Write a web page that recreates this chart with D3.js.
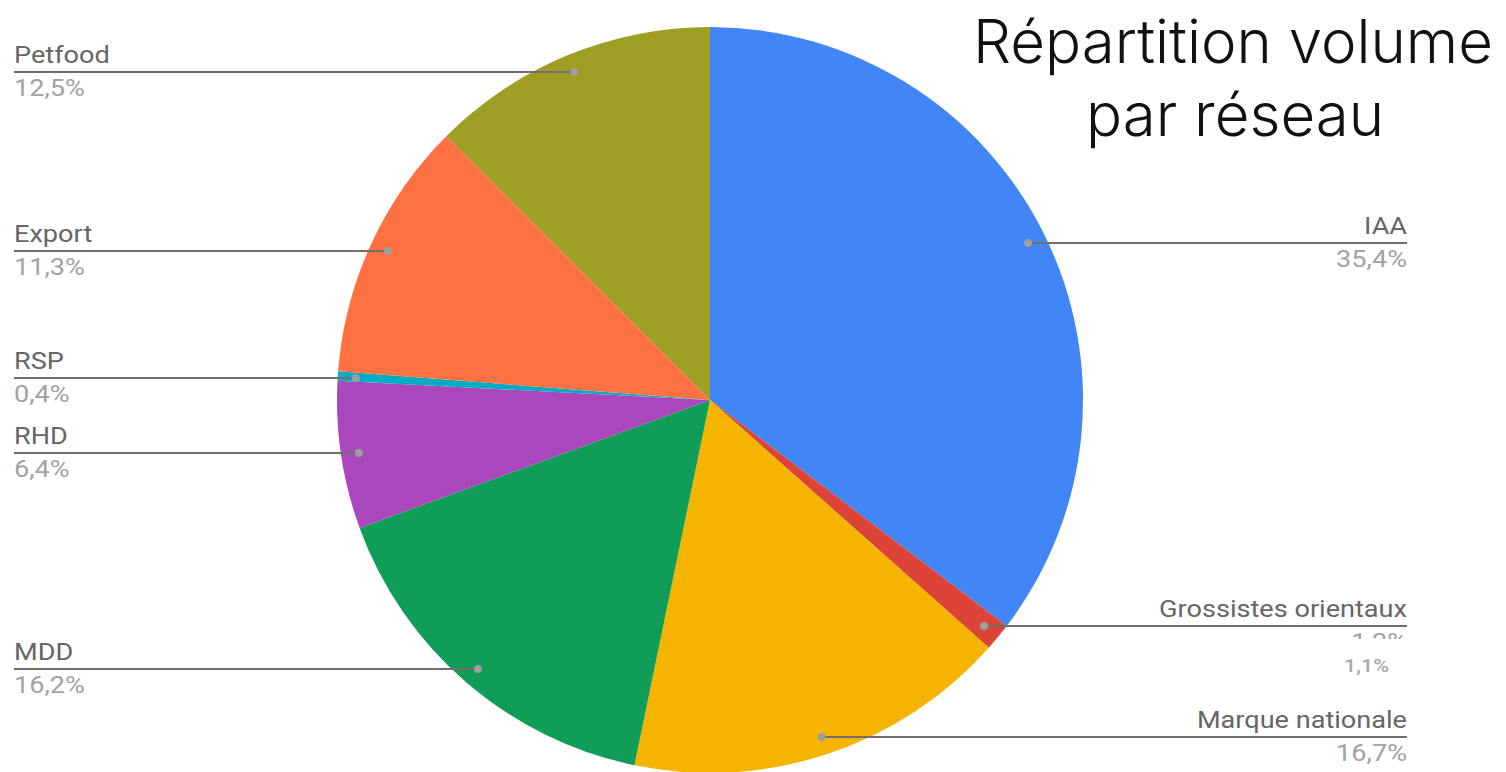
<!DOCTYPE html>
<html>
<head>
<meta charset="utf-8">
<script src="https://cdn.jsdelivr.net/npm/d3@7"></script>
<style>
  body { margin: 0; background: #fff; }
  svg { display: block; }
</style>
</head>
<body>
<div id="chart"></div>
<script>
// data (clockwise from 12 o'clock)
var categories = ["IAA", "Grossistes orientaux", "Marque nationale", "MDD", "RHD", "RSP", "Export", "Petfood"];
var values = [35.4, 1.2, 16.7, 16.2, 6.4, 0.4, 11.3, 12.5];
var pctLabels = ["35,4%", "1,2%", "16,7%", "16,2%", "6,4%", "0,4%", "11,3%", "12,5%"];
var colors = ["#4285f4", "#db4437", "#f4b400", "#0f9d58", "#ab47bc", "#00acc1", "#ff7043", "#9e9d24"];
// label line heights (where each leader line sits)
var labelY = [243, 626, 737, 669, 453, 378, 251, 72];
var correction = "1,1%"; // hand-written fix over the Grossistes label

var width = 1506, height = 772;
var cx = 710, cy = 400, radius = 373;

var svg = d3.select("#chart").append("svg")
    .attr("width", width)
    .attr("height", height);

var data = categories.map(function (c, i) {
    return { name: c, value: values[i], pct: pctLabels[i], color: colors[i], ly: labelY[i] };
});

var pie = d3.pie().sort(null).value(function (d) { return d.value; });
var arc = d3.arc().innerRadius(0).outerRadius(radius);
var arcs = pie(data);

var g = svg.append("g").attr("transform", "translate(" + cx + "," + cy + ")");

g.selectAll("path.slice")
    .data(arcs)
    .enter().append("path")
    .attr("class", "slice")
    .attr("d", arc)
    .attr("fill", function (d) { return d.data.color; });

// leader lines + dots
var dotR = 355;
function dotPos(d) {
    var a = (d.startAngle + d.endAngle) / 2;
    return [cx + Math.sin(a) * dotR, cy - Math.cos(a) * dotR];
}
var leftX = 14, rightX = 1407;
var sx = 1.13; // the screenshot is a bit stretched sideways

function label(parent, x, y, anchor, size, color, txt) {
    return parent.append("text")
        .attr("transform", "translate(" + x + "," + y + ") scale(" + sx + ",1)")
        .attr("text-anchor", anchor)
        .attr("font-family", "Roboto, sans-serif")
        .attr("font-size", size)
        .attr("fill", color)
        .text(txt);
}

var labels = svg.append("g");

arcs.forEach(function (d) {
    var p = dotPos(d);
    var right = p[0] > cx;
    var x2 = right ? rightX : leftX;
    var y = d.data.ly;
    labels.append("line")
        .attr("x1", p[0]).attr("y1", y)
        .attr("x2", x2).attr("y2", y)
        .attr("stroke", "#6e6e6e")
        .attr("stroke-width", 2);
    labels.append("circle")
        .attr("cx", p[0]).attr("cy", y)
        .attr("r", 4)
        .attr("fill", "#9e9e9e");
    label(labels, x2, y - 9, right ? "end" : "start", 24, "#666", d.data.name);
    label(labels, x2, y + 24, right ? "end" : "start", 24, "#a2a2a2", d.data.pct);
});

// white patch hiding the lower half of "1,2%" and the smaller correction
labels.append("rect")
    .attr("x", 1320).attr("y", 639)
    .attr("width", 100).attr("height", 22)
    .attr("fill", "#fff");
label(labels, 1389, 672, "end", 19, "#a8a8a8", correction)
    .attr("font-weight", 500);

// title
var title = svg.append("g")
    .attr("font-family", "Inter, sans-serif")
    .attr("font-weight", 350)
    .attr("fill", "#111")
    .attr("text-anchor", "middle");
var t1 = title.append("text").attr("font-size", 60).text("Répartition volume");
var t2 = title.append("text").attr("font-size", 60).text("par réseau");
// squeeze title to the width in the picture
var k = 520 / t1.node().getComputedTextLength();
t1.attr("transform", "translate(1233,63) scale(" + k + ",1)");
t2.attr("transform", "translate(1235,136) scale(" + k + ",1)");
</script>
</body>
</html>
